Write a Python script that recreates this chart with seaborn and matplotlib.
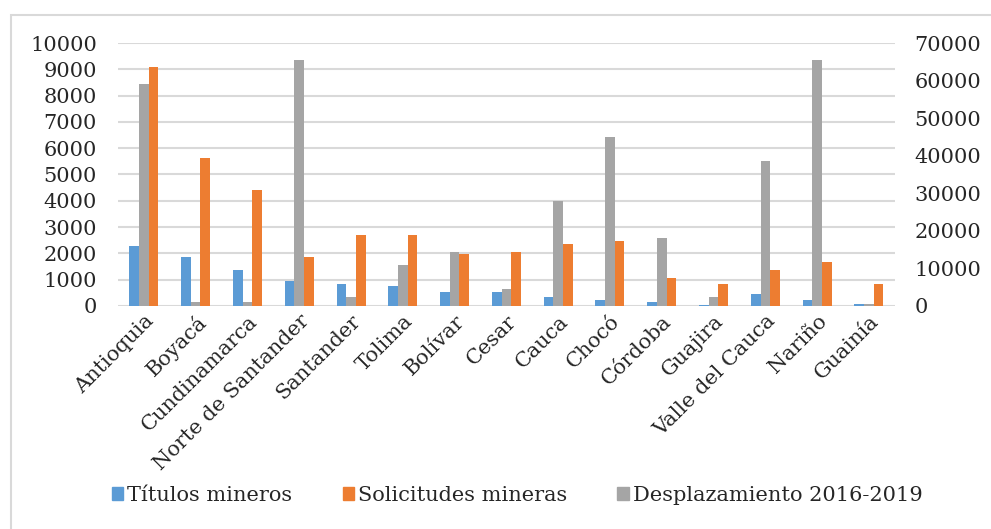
import pandas as pd
import numpy as np
import matplotlib
matplotlib.use("Agg")
import matplotlib.pyplot as plt
import matplotlib.ticker as mticker
from matplotlib.patches import Rectangle
import seaborn as sns

# datos
departamentos = ["Antioquia", "Boyacá", "Cundinamarca", "Norte de Santander", "Santander",
                 "Tolima", "Bolívar", "Cesar", "Cauca", "Chocó", "Córdoba", "Guajira",
                 "Valle del Cauca", "Nariño", "Guainía"]
titulos = [2270, 1870, 1360, 950, 850, 750, 550, 550, 340, 240, 140, 40, 440, 240, 80]
solicitudes = [9070, 5630, 4400, 1870, 2680, 2680, 1970, 2070, 2370, 2470, 1050, 850, 1360, 1660, 850]
desplazamiento = [59200, 1000, 1000, 65600, 2400, 10900, 14500, 4500, 28000, 45000, 18000, 2400, 38600, 65600, 500]

serie_names = ["Títulos mineros", "Desplazamiento 2016-2019", "Solicitudes mineras"]
colores = {"Títulos mineros": "#5B9BD5", "Solicitudes mineras": "#ED7D31",
           "Desplazamiento 2016-2019": "#A5A5A5"}


def main():
    sns.set_style("white")
    plt.rcParams['font.family'] = ['DejaVu Serif']

    n = len(departamentos)
    df = pd.DataFrame({
        "depto": departamentos * 3,
        "serie": ["Títulos mineros"] * n + ["Solicitudes mineras"] * n + ["Desplazamiento 2016-2019"] * n,
        "valor": titulos + solicitudes + desplazamiento,
    })
    # eje primario: títulos y solicitudes; secundario: desplazamiento
    df_prim = df.copy()
    df_prim.loc[df_prim["serie"] == "Desplazamiento 2016-2019", "valor"] = np.nan
    df_sec = df.copy()
    df_sec.loc[df_sec["serie"] != "Desplazamiento 2016-2019", "valor"] = np.nan

    fig = plt.figure(figsize=(9.91, 5.29), dpi=100)
    ax = fig.add_axes([0.119, 0.4216, 0.784, 0.4971])
    ax2 = ax.twinx()

    sns.barplot(data=df_prim, x="depto", y="valor", hue="serie", hue_order=serie_names,
                palette=colores, width=0.56, errorbar=None, ax=ax, legend=False,
                saturation=1, order=departamentos, linewidth=0)
    sns.barplot(data=df_sec, x="depto", y="valor", hue="serie", hue_order=serie_names,
                palette=colores, width=0.56, errorbar=None, ax=ax2, legend=False,
                saturation=1, order=departamentos, linewidth=0)

    ax.set_ylim(0, 10000)
    ax2.set_ylim(0, 70000)
    ax.set_xlim(-0.5, n - 0.5)
    ax.set_yticks(range(0, 10001, 1000))
    ax2.set_yticks(range(0, 70001, 10000))
    fmt = mticker.FuncFormatter(lambda v, p: f"{int(v)}")
    ax.yaxis.set_major_formatter(fmt)
    ax2.yaxis.set_major_formatter(fmt)

    ax.set_axisbelow(True)
    ax.yaxis.grid(True, color="#d9d9d9", lw=1.5)

    for a in (ax, ax2):
        for s in a.spines.values():
            s.set_visible(False)
        a.set_xlabel("")
        a.set_ylabel("")
    ax.tick_params(axis="y", length=0, pad=15, labelsize=15)
    ax2.tick_params(axis="y", length=0, pad=14, labelsize=15)
    ax.tick_params(axis="x", length=0, pad=4, labelsize=15)
    plt.setp(ax.get_xticklabels(), rotation=45, ha="right", rotation_mode="anchor")

    handles = [Rectangle((0, 0), 1, 1, color=colores[s]) for s in
               ["Títulos mineros", "Solicitudes mineras", "Desplazamiento 2016-2019"]]
    fig.legend(handles, ["Títulos mineros", "Solicitudes mineras", "Desplazamiento 2016-2019"],
               loc="center", bbox_to_anchor=(0.522, 0.064), ncol=3, frameon=False,
               fontsize=15, handlelength=0.55, handleheight=0.55, handletextpad=0.2,
               columnspacing=2.4)

    # borde del área del gráfico
    fig.add_artist(Rectangle((11 / 991, -0.1), 1.0, 1 - 15 / 529 + 0.1, transform=fig.transFigure,
                             fill=False, edgecolor="#d9d9d9", lw=1.5))

    fig.savefig("out.png", dpi=100)


if __name__ == "__main__":
    main()
